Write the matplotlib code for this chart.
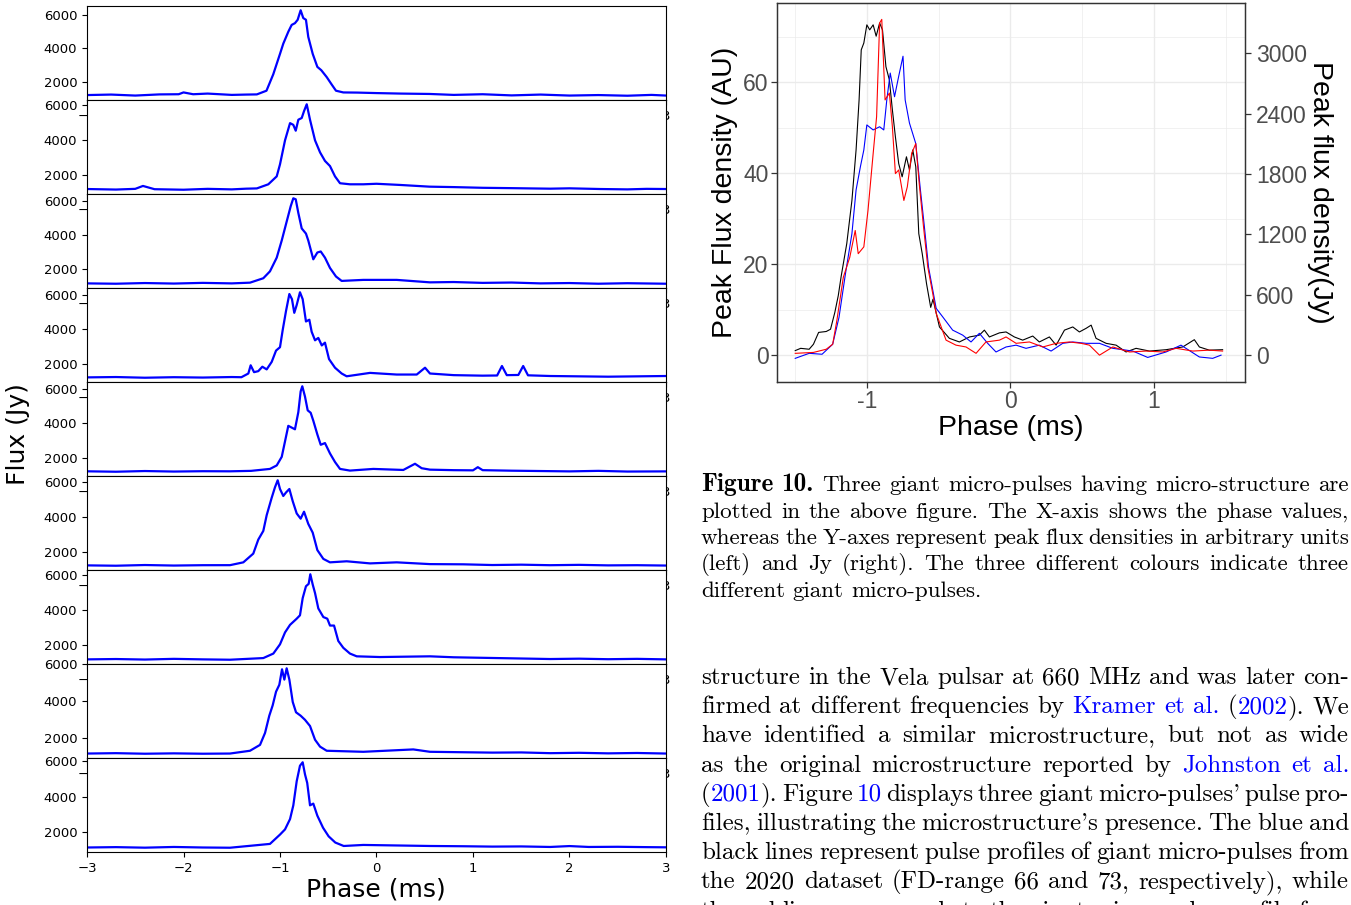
import re
import matplotlib
matplotlib.use("Agg")
import matplotlib.pyplot as plt
from matplotlib.ticker import FixedLocator, FixedFormatter

# ---------------- data: left stack of nine giant-pulse profiles (phase ms, flux Jy)
profile_1 = [(-3.0, 1180), (-2.75, 1210), (-2.5, 1150), (-2.25, 1220), (-2.05, 1230), (-2.0, 1340), (-1.9, 1230),
             (-1.75, 1270), (-1.5, 1190), (-1.35, 1210), (-1.24, 1220), (-1.14, 1444), (-1.07, 2434), (-1.0, 3673),
             (-0.966, 4290), (-0.914, 5010), (-0.879, 5424), (-0.845, 5530), (-0.817, 5734), (-0.786, 6310),
             (-0.759, 5840), (-0.731, 5734), (-0.707, 4700), (-0.661, 3673), (-0.613, 2886), (-0.572, 2682),
             (-0.516, 2268), (-0.464, 1815), (-0.42, 1444), (-0.344, 1339), (-0.2, 1330), (0.0, 1300), (0.25, 1270),
             (0.55, 1247), (0.8, 1190), (1.1, 1230), (1.4, 1160), (1.7, 1210), (2.0, 1150), (2.3, 1180), (2.6, 1140),
             (2.85, 1190), (3.0, 1150)]
profile_2 = [(-3.0, 1220), (-2.7, 1190), (-2.5, 1230), (-2.42, 1396), (-2.3, 1210), (-2.0, 1180), (-1.75, 1230),
             (-1.5, 1200), (-1.35, 1240), (-1.24, 1255), (-1.121, 1490), (-1.034, 1943), (-1.0, 2630), (-0.948, 4000),
             (-0.896, 4983), (-0.862, 4883), (-0.837, 4550), (-0.81, 5177), (-0.775, 5275), (-0.751, 5667),
             (-0.723, 6059), (-0.689, 5177), (-0.637, 4000), (-0.585, 3313), (-0.534, 2825), (-0.482, 2531),
             (-0.43, 1943), (-0.378, 1550), (-0.275, 1490), (-0.137, 1490), (0.0, 1520), (0.244, 1453), (0.55, 1355),
             (0.8, 1330), (1.1, 1290), (1.4, 1270), (1.59, 1255), (1.8, 1240), (2.0, 1260), (2.32, 1220), (2.6, 1200),
             (2.8, 1230), (3.0, 1220)]
profile_3 = [(-3.0, 1170), (-2.7, 1150), (-2.4, 1190), (-2.1, 1160), (-1.8, 1200), (-1.5, 1170), (-1.311, 1213),
             (-1.173, 1473), (-1.104, 1879), (-1.034, 2685), (-0.982, 3697), (-0.931, 4806), (-0.889, 5715),
             (-0.862, 6182), (-0.837, 6121), (-0.81, 5315), (-0.775, 4406), (-0.731, 4103), (-0.707, 3697),
             (-0.655, 2588), (-0.613, 2988), (-0.578, 3049), (-0.534, 2685), (-0.482, 2079), (-0.42, 1576),
             (-0.361, 1316), (-0.137, 1376), (0.209, 1376), (0.554, 1231), (0.8, 1250), (1.1, 1200), (1.4, 1220),
             (1.7, 1170), (2.0, 1190), (2.3, 1150), (2.6, 1180), (3.0, 1150)]
profile_4 = [(-3.0, 1220), (-2.7, 1240), (-2.4, 1200), (-2.1, 1230), (-1.8, 1210), (-1.5, 1240), (-1.4, 1230),
             (-1.328, 1445), (-1.304, 1922), (-1.269, 1523), (-1.225, 1582), (-1.183, 1839), (-1.138, 1684),
             (-1.086, 2120), (-1.041, 2776), (-1.0, 2973), (-0.972, 3970), (-0.938, 5064), (-0.903, 6060),
             (-0.876, 5761), (-0.852, 4967), (-0.827, 5421), (-0.793, 6161), (-0.765, 5761), (-0.731, 4466),
             (-0.696, 4567), (-0.672, 3869), (-0.637, 3373), (-0.603, 3511), (-0.567, 3075), (-0.534, 3236),
             (-0.492, 2281), (-0.43, 1781), (-0.361, 1445), (-0.309, 1284), (-0.067, 1481), (0.209, 1385),
             (0.417, 1385), (0.503, 1781), (0.554, 1445), (0.8, 1350), (1.1, 1320), (1.25, 1330), (1.3, 1881),
             (1.35, 1350), (1.47, 1360), (1.52, 1881), (1.57, 1340), (1.8, 1300), (2.1, 1280), (2.4, 1260),
             (2.7, 1280), (3.0, 1300)]
profile_5 = [(-3.0, 1224), (-2.7, 1200), (-2.4, 1240), (-2.1, 1210), (-1.8, 1230), (-1.518, 1224), (-1.3, 1250),
             (-1.104, 1362), (-1.034, 1564), (-0.982, 2060), (-0.948, 2955), (-0.914, 3851), (-0.879, 3751),
             (-0.845, 3652), (-0.81, 4645), (-0.786, 5839), (-0.769, 6137), (-0.741, 5540), (-0.713, 4746),
             (-0.682, 4605), (-0.655, 4149), (-0.613, 3354), (-0.578, 2756), (-0.534, 2856), (-0.482, 2257),
             (-0.43, 1761), (-0.378, 1362), (-0.275, 1266), (-0.033, 1362), (0.278, 1302), (0.399, 1660),
             (0.468, 1403), (0.554, 1320), (0.8, 1290), (1.0, 1280), (1.05, 1463), (1.1, 1290), (1.4, 1260),
             (1.7, 1240), (2.0, 1220), (2.3, 1250), (2.6, 1210), (3.0, 1220)]
profile_6 = [(-3.0, 1230), (-2.7, 1210), (-2.4, 1250), (-2.1, 1220), (-1.8, 1240), (-1.518, 1242), (-1.38, 1403),
             (-1.277, 1900), (-1.225, 2699), (-1.173, 3194), (-1.138, 4090), (-1.086, 5085), (-1.052, 5682),
             (-1.024, 6080), (-1.0, 5582), (-0.966, 5184), (-0.938, 5383), (-0.903, 5582), (-0.868, 4885),
             (-0.827, 4190), (-0.786, 3891), (-0.751, 4289), (-0.707, 3594), (-0.661, 3095), (-0.613, 2102),
             (-0.551, 1600), (-0.482, 1403), (-0.309, 1463), (-0.067, 1343), (0.209, 1403), (0.554, 1302),
             (0.9, 1290), (1.2, 1250), (1.5, 1270), (1.8, 1240), (2.1, 1260), (2.4, 1230), (2.7, 1240), (3.0, 1220)]
profile_7 = [(-3.0, 1180), (-2.7, 1200), (-2.4, 1170), (-2.1, 1210), (-1.8, 1180), (-1.518, 1160), (-1.173, 1255),
             (-1.069, 1513), (-1.0, 2043), (-0.948, 2725), (-0.896, 3160), (-0.827, 3513), (-0.793, 3707),
             (-0.765, 4689), (-0.731, 5372), (-0.703, 5510), (-0.686, 6059), (-0.661, 5471), (-0.637, 4983),
             (-0.603, 4101), (-0.551, 3607), (-0.51, 3513), (-0.482, 3119), (-0.44, 3119), (-0.396, 2237),
             (-0.344, 1843), (-0.275, 1513), (-0.205, 1355), (0.036, 1314), (0.554, 1355), (0.8, 1300), (1.2, 1260),
             (1.5, 1230), (1.8, 1200), (2.1, 1220), (2.4, 1190), (2.7, 1210), (3.0, 1180)]
profile_8 = [(-3.0, 1180), (-2.7, 1200), (-2.4, 1170), (-2.1, 1190), (-1.8, 1170), (-1.518, 1180), (-1.311, 1330),
             (-1.207, 1647), (-1.155, 2292), (-1.111, 3220), (-1.076, 3776), (-1.041, 4516), (-1.007, 4888),
             (-0.979, 5722), (-0.955, 5166), (-0.931, 5778), (-0.903, 5166), (-0.868, 3960), (-0.834, 3404),
             (-0.786, 3220), (-0.741, 2998), (-0.689, 2664), (-0.637, 1925), (-0.585, 1552), (-0.516, 1330),
             (-0.137, 1274), (0.381, 1402), (0.554, 1274), (0.9, 1250), (1.2, 1230), (1.5, 1240), (1.8, 1200),
             (2.1, 1220), (2.4, 1190), (2.7, 1210), (3.0, 1180)]
profile_9 = [(-3.0, 1140), (-2.7, 1160), (-2.4, 1130), (-2.1, 1170), (-1.8, 1140), (-1.518, 1127), (-1.104, 1341),
             (-1.0, 1865), (-0.948, 2155), (-0.896, 2735), (-0.862, 3506), (-0.827, 4858), (-0.793, 5729),
             (-0.765, 5923), (-0.741, 5246), (-0.718, 4763), (-0.689, 3506), (-0.655, 3603), (-0.613, 2926),
             (-0.554, 2249), (-0.496, 1766), (-0.427, 1418), (-0.34, 1225), (-0.137, 1283), (0.554, 1225),
             (0.9, 1210), (1.2, 1190), (1.5, 1200), (1.8, 1170), (2.0, 1220), (2.2, 1170), (2.5, 1180), (2.8, 1160),
             (3.0, 1150)]
left_xticks = [-3, -2, -1, 0, 1, 2, 3]
left_yticks = [2000, 4000, 6000]

# ---------------- data: right chart, three micro-pulses (phase ms, peak flux AU)
black_pulse = [(-1.5, 1.0), (-1.462, 1.5), (-1.403, 1.3), (-1.373, 2.4), (-1.337, 5.0), (-1.284, 5.2), (-1.254, 5.7),
               (-1.224, 9.4), (-1.2, 13.1), (-1.18, 17.3), (-1.141, 24.5), (-1.105, 34.0), (-1.076, 45.1),
               (-1.055, 56.1), (-1.04, 67.1), (-1.022, 68.6), (-1.001, 72.6), (-0.981, 71.5), (-0.957, 72.6),
               (-0.936, 70.1), (-0.912, 73.0), (-0.892, 71.5), (-0.868, 63.4), (-0.844, 60.5), (-0.823, 53.9),
               (-0.802, 48.0), (-0.779, 42.1), (-0.755, 39.2), (-0.725, 43.6), (-0.704, 40.7), (-0.681, 45.1),
               (-0.66, 41.4), (-0.639, 26.7), (-0.615, 22.3), (-0.585, 15.7), (-0.556, 10.5), (-0.54, 12.3),
               (-0.495, 6.2), (-0.426, 3.7), (-0.356, 2.9), (-0.286, 4.0), (-0.217, 4.4), (-0.182, 5.5),
               (-0.147, 4.0), (-0.077, 4.9), (-0.031, 5.1), (0.027, 4.0), (0.085, 3.3), (0.155, 4.2), (0.201, 2.9),
               (0.271, 4.0), (0.318, 2.2), (0.376, 5.5), (0.434, 6.2), (0.48, 5.1), (0.527, 5.9), (0.562, 6.6),
               (0.596, 3.7), (0.666, 2.6), (0.736, 2.2), (0.805, 0.7), (0.875, 1.5), (0.968, 0.9), (1.084, 1.2),
               (1.2, 1.8), (1.281, 3.4), (1.316, 1.8), (1.385, 1.1), (1.478, 1.2)]
blue_pulse = [(-1.5, -0.7), (-1.403, 0.4), (-1.313, 0.2), (-1.239, 2.4), (-1.195, 8.3), (-1.15, 17.9),
              (-1.105, 26.7), (-1.076, 36.3), (-1.046, 41.4), (-1.022, 45.1), (-1.001, 50.6), (-0.957, 49.5),
              (-0.912, 50.2), (-0.883, 49.5), (-0.862, 56.1), (-0.838, 62.0), (-0.808, 56.8), (-0.779, 61.3),
              (-0.749, 65.7), (-0.734, 56.1), (-0.704, 51.0), (-0.66, 46.5), (-0.63, 37.0), (-0.6, 28.2),
              (-0.571, 19.3), (-0.518, 10.3), (-0.472, 8.4), (-0.403, 5.5), (-0.333, 4.4), (-0.275, 2.9),
              (-0.217, 4.8), (-0.159, 2.6), (-0.101, 0.7), (-0.031, 1.8), (0.039, 2.2), (0.108, 1.5), (0.201, 2.2),
              (0.283, 0.9), (0.364, 2.6), (0.434, 2.9), (0.527, 2.6), (0.62, 2.6), (0.713, 1.5), (0.852, 0.9),
              (0.956, -0.5), (1.084, 0.7), (1.188, 2.2), (1.316, -0.4), (1.409, -0.7), (1.467, 0.0)]
red_pulse = [(-1.5, 0.4), (-1.373, 0.6), (-1.284, 1.3), (-1.239, 2.4), (-1.21, 7.6), (-1.165, 17.1), (-1.12, 21.5),
             (-1.082, 27.4), (-1.061, 22.3), (-1.022, 23.8), (-0.993, 31.8), (-0.957, 44.3), (-0.933, 52.4),
             (-0.912, 73.0), (-0.897, 73.8), (-0.874, 56.1), (-0.844, 57.6), (-0.823, 50.2), (-0.802, 39.9),
             (-0.779, 40.7), (-0.743, 34.0), (-0.719, 37.0), (-0.689, 44.3), (-0.66, 46.5), (-0.636, 37.7),
             (-0.606, 28.2), (-0.576, 19.3), (-0.541, 13.4), (-0.518, 9.2), (-0.449, 3.3), (-0.38, 2.2),
             (-0.31, 1.8), (-0.24, 0.4), (-0.171, 2.9), (-0.077, 3.3), (-0.031, 4.0), (0.039, 2.6), (0.132, 2.9),
             (0.225, 1.8), (0.318, 2.6), (0.41, 2.9), (0.492, 2.6), (0.55, 2.2), (0.62, 0.0), (0.713, 1.8),
             (0.829, 0.7), (0.945, 0.9), (1.061, 0.7), (1.154, 1.5), (1.27, 0.9), (1.385, 1.1), (1.478, 0.9)]
au_to_jy = 45.2
right_xticks = [-1, 0, 1]
right_xticklabels = ["-1", "0", "1"]
right_yticks_au = [0, 20, 40, 60]
right_yticks_jy = [0, 600, 1200, 1800, 2400, 3000]

# ---------------- text
caption_lines = [
    "*Figure* *10.* Three giant micro-pulses having micro-structure are",
    "plotted in the above figure. The X-axis shows the phase values,",
    "whereas the Y-axes represent peak flux densities in arbitrary units",
    "(left) and Jy (right). The three different colours indicate three",
    "different giant micro-pulses.",
]
body_lines = [
    "structure in the Vela pulsar at 660 MHz and was later con-",
    "firmed at different frequencies by [Kramer] [et] [al.] ([2002]). We",
    "have identified a similar microstructure, but not as wide",
    "as the original microstructure reported by [Johnston] [et] [al.]",
    "([2001]). Figure [10] displays three giant micro-pulses' pulse pro-",
    "files, illustrating the microstructure's presence. The blue and",
    "black lines represent pulse profiles of giant micro-pulses from",
    "the 2020 dataset (FD-range 66 and 73, respectively), while",
    "the red line corresponds to the giant micro-pulse profile from",
]

W, H = 1351, 905
fig = plt.figure(figsize=(W / 100, H / 100), dpi=100)
fig.patch.set_facecolor("white")

# ---------------- left stack
profiles = [profile_1, profile_2, profile_3, profile_4, profile_5, profile_6, profile_7, profile_8, profile_9]
x0, x1 = 87, 666
top0, ph = 6, 94
for k, prof in enumerate(profiles):
    bottom = 1 - (top0 + ph * (k + 1)) / H
    ax = fig.add_axes([x0 / W, bottom, (x1 - x0) / W, ph / H])
    ax.plot([p[0] for p in prof], [p[1] for p in prof], color="#0000ff", lw=1.6)
    ax.set_xlim(-3, 3)
    ax.set_xticks(left_xticks)
    ax.set_yticks(left_yticks)
    ax.tick_params(labelsize=9.5, colors="black")
fig.text(18 / W, 1 - 434 / H, "Flux (Jy)", rotation=90, fontsize=18, ha="center", va="center")
fig.text(376 / W, 1 - 889 / H, "Phase (ms)", fontsize=18, ha="center", va="center")

# ---------------- right chart
rfont = "Liberation Sans"
axr = fig.add_axes([777 / W, 1 - 382 / H, (1245 - 777) / W, (382 - 3) / H])
for series, col in ((black_pulse, "black"), (blue_pulse, "#0000ff"), (red_pulse, "#ff0000")):
    axr.plot([p[0] for p in series], [p[1] for p in series], color=col, lw=0.8)
axr.set_xlim(-1.627, 1.634)
axr.set_ylim(-5.9, 77.4)
axr.xaxis.set_major_locator(FixedLocator(right_xticks))
axr.xaxis.set_major_formatter(FixedFormatter(right_xticklabels))
axr.set_yticks(right_yticks_au)
axr.xaxis.set_minor_locator(FixedLocator([-1.5, -0.5, 0.5, 1.5]))
axr.yaxis.set_minor_locator(FixedLocator([10, 30, 50, 70]))
axr.grid(True, which="major", color="#EBEBEB", lw=1.0)
axr.grid(True, which="minor", color="#EBEBEB", lw=0.5)
axr.set_axisbelow(True)
for s in axr.spines.values():
    s.set_color("#333333")
    s.set_linewidth(0.9)
axr.tick_params(which="major", length=4, width=0.9, color="#333333", labelcolor="#4D4D4D", labelsize=16.5, pad=2)
axr.tick_params(which="minor", length=0)
for lab in axr.get_xticklabels() + axr.get_yticklabels():
    lab.set_family(rfont)
ax2 = axr.twinx()
ax2.set_ylim(-5.9 * au_to_jy, 77.4 * au_to_jy)
ax2.set_yticks(right_yticks_jy)
ax2.tick_params(length=4, width=0.9, color="#333333", labelcolor="#4D4D4D", labelsize=16.5, pad=4)
for lab in ax2.get_yticklabels():
    lab.set_family(rfont)
for s in ax2.spines.values():
    s.set_color("#333333")
    s.set_linewidth(0.9)
fig.text(725 / W, 1 - 192 / H, "Peak Flux density (AU)", rotation=90, fontsize=20.5, family=rfont,
         ha="center", va="center")
fig.text(1320 / W, 1 - 192 / H, "Peak flux density(Jy)", rotation=270, fontsize=20.5, family=rfont,
         ha="center", va="center")
fig.text(1011 / W, 1 - 428 / H, "Phase (ms)", fontsize=20.5, family=rfont, ha="center", va="center")

# ---------------- justified serif text
renderer = fig.canvas.get_renderer()
BOLD_SCALE = 1.1


def parse_word(w):
    segs = []
    for m in re.finditer(r"\[([^\]]*)\]|\*([^*]*)\*|([^\[\*]+)", w):
        if m.group(1) is not None:
            segs.append((m.group(1), "#0000ff", "cmr10"))
        elif m.group(2) is not None:
            segs.append((m.group(2), "black", "cmb10"))
        else:
            segs.append((m.group(3), "black", "cmr10"))
    return segs


def seg_size(fam, size):
    return size * BOLD_SCALE if fam == "cmb10" else size


def seg_width(txt, fam, size):
    t = fig.text(0, 0, txt, family=fam, fontsize=seg_size(fam, size))
    w = t.get_window_extent(renderer).width
    t.remove()
    return w


def draw_block(lines, left, right, base0, step, size, last_ragged):
    space = 0.333 * size * 100 / 72
    for i, line in enumerate(lines):
        words = [parse_word(w) for w in line.split()]
        widths = [[seg_width(s[0], s[2], size) for s in w] for w in words]
        totals = [sum(ws) for ws in widths]
        ragged = last_ragged and i == len(lines) - 1
        if ragged or len(words) < 2:
            gap = space
        else:
            gap = (right - left - sum(totals)) / (len(words) - 1)
        x = left
        y = 1 - (base0 + i * step) / H
        for w, ws in zip(words, widths):
            xx = x
            for (txt, col, fam), sw in zip(w, ws):
                fig.text(xx / W, y, txt, family=fam, fontsize=seg_size(fam, size), color=col,
                         va="baseline", ha="left")
                xx += sw
            x += sum(ws) + gap


draw_block(caption_lines, 701, 1349, 491, 26.5, 16.6, True)
draw_block(body_lines, 701, 1349, 684, 29.2, 18.0, False)

fig.savefig("out.png", dpi=100, facecolor="white")
